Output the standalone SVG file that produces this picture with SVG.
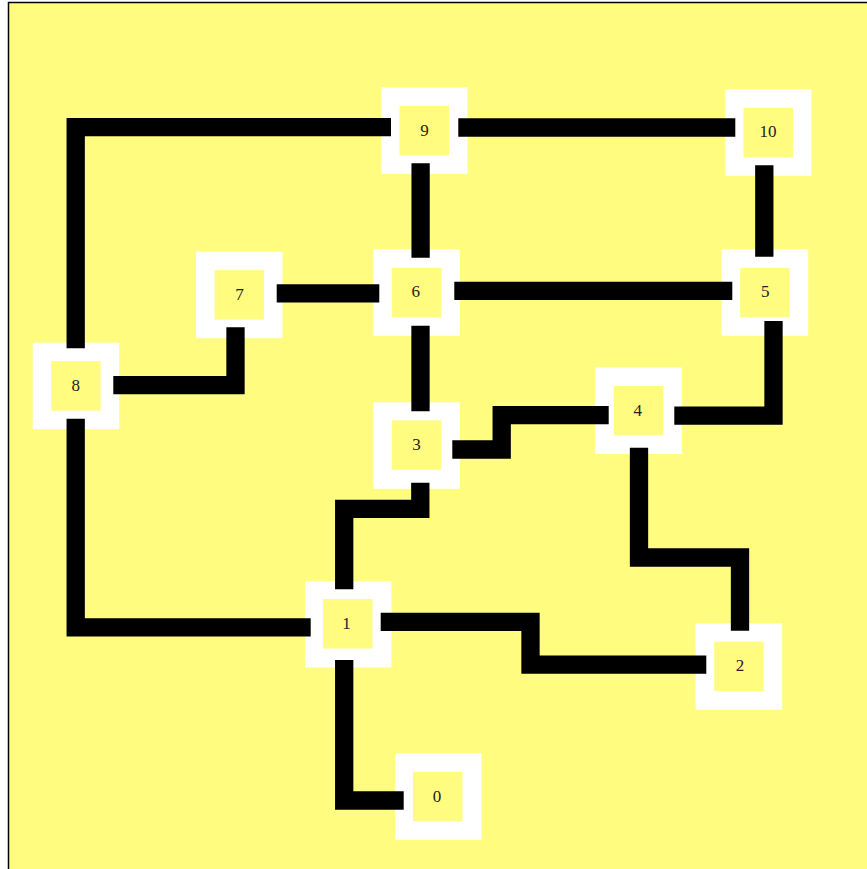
<svg xmlns="http://www.w3.org/2000/svg" width="867" height="869" viewBox="0 0 867 869">
<style>
.outer{fill:#ffffff}
.inner{fill:#fffc80}
.lbl{font-family:"Liberation Serif","Times New Roman",serif;font-size:17px;fill:#222;text-anchor:middle;dominant-baseline:central}
.edge{fill:none;stroke:#000;stroke-width:18.3;stroke-linecap:butt;stroke-linejoin:miter}
</style>
<rect x="0" y="0" width="867" height="869" fill="#ffffff"/>
<rect x="8.5" y="2.5" width="880" height="890" fill="#fffc80" stroke="#000" stroke-width="1.5"/>
<g id="nodes">
<g id="node9"><rect class="outer" x="381" y="87.3" width="86.5" height="86.5"/><rect class="inner" x="399.5" y="105.8" width="49.5" height="49.5"/><text class="lbl" x="424.5" y="130">9</text></g>
<g id="node10"><rect class="outer" x="725" y="89.3" width="86.5" height="86.5"/><rect class="inner" x="743.5" y="107.8" width="49.5" height="49.5"/><text class="lbl" x="768" y="131">10</text></g>
<g id="node7"><rect class="outer" x="196" y="251.7" width="86.5" height="86.5"/><rect class="inner" x="214.5" y="270.2" width="49.5" height="49.5"/><text class="lbl" x="239.5" y="294">7</text></g>
<g id="node6"><rect class="outer" x="373.3" y="249.3" width="86.5" height="86.5"/><rect class="inner" x="391.8" y="267.8" width="49.5" height="49.5"/><text class="lbl" x="415.8" y="291.8">6</text></g>
<g id="node5"><rect class="outer" x="721.7" y="249.3" width="86.5" height="86.5"/><rect class="inner" x="740.2" y="267.8" width="49.5" height="49.5"/><text class="lbl" x="765.2" y="291">5</text></g>
<g id="node8"><rect class="outer" x="32.7" y="342.7" width="86.5" height="86.5"/><rect class="inner" x="51.2" y="361.2" width="49.5" height="49.5"/><text class="lbl" x="75.8" y="385">8</text></g>
<g id="node4"><rect class="outer" x="595.3" y="367.5" width="86.5" height="86.5"/><rect class="inner" x="613.8" y="386" width="49.5" height="49.5"/><text class="lbl" x="637.8" y="410.7">4</text></g>
<g id="node3"><rect class="outer" x="373.3" y="402.3" width="86.5" height="86.5"/><rect class="inner" x="391.8" y="420.3" width="49.5" height="49.5"/><text class="lbl" x="416.5" y="444.3">3</text></g>
<g id="node1"><rect class="outer" x="305" y="581" width="86.5" height="86.5"/><rect class="inner" x="323" y="599" width="49.5" height="49.5"/><text class="lbl" x="346.5" y="623.3">1</text></g>
<g id="node2"><rect class="outer" x="695.7" y="623.3" width="86.5" height="86.5"/><rect class="inner" x="714.2" y="641.7" width="49.5" height="49.5"/><text class="lbl" x="740" y="665">2</text></g>
<g id="node0"><rect class="outer" x="395" y="753.3" width="86.5" height="86.5"/><rect class="inner" x="413" y="771.8" width="49.5" height="49.5"/><text class="lbl" x="437" y="796.7">0</text></g>
</g>
<g id="connectors">
<path class="edge" d="M458.3 127.5 H735.3"/>
<path class="edge" d="M420.6 163.3 V257.7"/>
<path class="edge" d="M454.3 290.8 H732.3"/>
<path class="edge" d="M276.7 293.3 H379.3"/>
<path class="edge" d="M420.5 325.7 V411.3"/>
<path class="edge" d="M764.3 165.3 V256.7"/>
<path class="edge" d="M75.7 348.3 V127.2 H391"/>
<path class="edge" d="M113.3 385.2 H235.5 V327.3"/>
<path class="edge" d="M75.7 418.7 V627.3 H310.7"/>
<path class="edge" d="M452.3 449.5 H501.7 V415.2 H608.7"/>
<path class="edge" d="M674.3 415.7 H773.5 V321"/>
<path class="edge" d="M639 447.7 V557.5 H740 V630.7"/>
<path class="edge" d="M420.3 482.7 V508.8 H344.2 V589.3"/>
<path class="edge" d="M380.7 621.8 H530.5 V664.7 H706.3"/>
<path class="edge" d="M344.2 660 V800.5 H403.7"/>
</g>
</svg>
